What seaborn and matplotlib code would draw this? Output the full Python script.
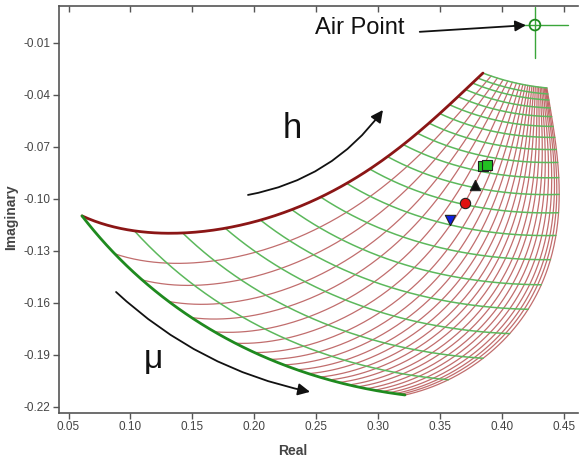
import numpy as np
import pandas as pd
import matplotlib
matplotlib.use("Agg")
import matplotlib.pyplot as plt
import seaborn as sns

# ---------------- data ----------------
# first red line (thick, upper-left boundary)  A -> B
top_red_x = [0.0609, 0.0754, 0.0981, 0.1158, 0.1336, 0.1667, 0.1990, 0.2273, 0.2515,
             0.2750, 0.2919, 0.3081, 0.3218, 0.3355, 0.3460, 0.3565, 0.3679, 0.3759, 0.3848]
top_red_y = [-0.1099, -0.1157, -0.1186, -0.1197, -0.1197, -0.1192, -0.1140, -0.1076, -0.0996,
             -0.0921, -0.0846, -0.0759, -0.0678, -0.0603, -0.0534, -0.0471, -0.0402, -0.0344, -0.0275]
# first green line (thick, lower boundary)  A -> D
bottom_green_x = [0.0609, 0.0714, 0.0876, 0.1102, 0.1296, 0.1481, 0.1724, 0.1990, 0.2346,
                  0.2612, 0.2879, 0.3218]
bottom_green_y = [-0.1099, -0.1180, -0.1313, -0.1474, -0.1584, -0.1682, -0.1774, -0.1884, -0.1988,
                  -0.2045, -0.2091, -0.2132]
# last red line (right edge)  D -> C
right_red_x = [0.3218, 0.3565, 0.3848, 0.4066, 0.4220, 0.4317, 0.4389, 0.4438, 0.4460,
               0.4465, 0.4440, 0.4410, 0.4383, 0.4365]
right_red_y = [-0.2132, -0.2039, -0.1918, -0.1780, -0.1642, -0.1497, -0.1353, -0.1215, -0.1065,
               -0.0892, -0.0719, -0.0546, -0.0430, -0.0361]
# last green line (short top edge)  B -> C
top_green_x = [0.3848, 0.3985, 0.4147, 0.4268, 0.4365]
top_green_y = [-0.0275, -0.0309, -0.0338, -0.0350, -0.0361]

# relative positions of the grid lines along the boundaries
green_frac = [0.0, 0.121, 0.228, 0.323, 0.403, 0.476, 0.546, 0.611, 0.671, 0.719,
              0.763, 0.803, 0.837, 0.869, 0.898, 0.924, 0.947, 0.968, 0.984, 1.0]
red_frac = [0.0, 0.132, 0.232, 0.322, 0.396, 0.467, 0.530, 0.586, 0.631, 0.670, 0.707,
            0.739, 0.770, 0.797, 0.823, 0.850, 0.873, 0.897, 0.918, 0.939, 0.958,
            0.974, 0.987, 1.0]

# measurement points
meas_x = [0.3848, 0.3880, 0.3784, 0.3703, 0.3582]
meas_y = [-0.0811, -0.0805, -0.0921, -0.1024, -0.1122]
meas_kind = ["sq", "sq", "tri", "circ", "tri_dn"]

air_x, air_y = 0.4268, 0.0002
air_hline_x = [0.4091, 0.4535]
air_vline_y = [0.0106, -0.0188]

x_ticks = [0.05, 0.10, 0.15, 0.20, 0.25, 0.30, 0.35, 0.40, 0.45]
y_ticks = [-0.01, -0.04, -0.07, -0.10, -0.13, -0.16, -0.19, -0.22]

# ---------------- style ----------------
sns.set_theme(style="white")
plt.rcParams["font.family"] = ["Liberation Sans", "DejaVu Sans"]

fig = plt.figure(figsize=(5.79, 4.57), dpi=100)
ax = fig.add_axes([0.1019, 0.0963, 0.8964, 0.8906])
ax.set_xlim(0.0423, 0.4616)
ax.set_ylim(-0.2236, 0.0112)


# ---------------- grid construction ----------------
def to_disp(xs, ys):
    return ax.transData.transform(np.column_stack([xs, ys]))


def curve_fn(xs, ys, deg):
    p = to_disp(xs, ys)
    d = np.hypot(np.diff(p[:, 0]), np.diff(p[:, 1]))
    s = np.r_[0, np.cumsum(d)]
    s /= s[-1]
    sd = np.linspace(0, 1, 400)
    cx = np.polyval(np.polyfit(s, p[:, 0], deg), sd)
    cy = np.polyval(np.polyfit(s, p[:, 1], deg), sd)
    c = np.column_stack([cx, cy])
    # pin the ends to the read corner points
    c += (p[0] - c[0]) * (1 - sd)[:, None] + (p[-1] - c[-1]) * sd[:, None]
    d = np.hypot(np.diff(c[:, 0]), np.diff(c[:, 1]))
    s2 = np.r_[0, np.cumsum(d)]
    s2 /= s2[-1]
    return lambda t: np.column_stack([np.interp(t, s2, c[:, 0]), np.interp(t, s2, c[:, 1])])


R0 = curve_fn(top_red_x, top_red_y, 5)
R1 = curve_fn(right_red_x, right_red_y, 4)
G0 = curve_fn(bottom_green_x, bottom_green_y, 4)
G1 = curve_fn(top_green_x, top_green_y, 2)
A, B = R0(np.array([0.0]))[0], R0(np.array([1.0]))[0]
D, C = R1(np.array([0.0]))[0], R1(np.array([1.0]))[0]


def coons(u, v):
    u = np.asarray(u)[:, None]
    v = np.asarray(v)[:, None]
    uu, vv = u[:, 0], v[:, 0]
    return ((1 - u) * R0(vv) + u * R1(vv) + (1 - v) * G0(uu) + v * G1(uu)
            - ((1 - u) * (1 - v) * A + u * (1 - v) * D + (1 - u) * v * B + u * v * C))


inv = ax.transData.inverted()
t = np.linspace(0, 1, 200)
rows = []
for i, u in enumerate(red_frac):
    pts = inv.transform(coons(np.full_like(t, u), t))
    for k, (x, y) in enumerate(pts):
        rows.append(("red", i, k, x, y))
for j, v in enumerate(green_frac):
    pts = inv.transform(coons(t, np.full_like(t, v)))
    for k, (x, y) in enumerate(pts):
        rows.append(("green", j, k, x, y))
grid = pd.DataFrame(rows, columns=["family", "line", "order", "x", "y"])

red_thin = grid[(grid.family == "red") & (grid.line > 0)]
green_thin = grid[(grid.family == "green") & (grid.line > 0)]
red_thick = grid[(grid.family == "red") & (grid.line == 0)]
green_thick = grid[(grid.family == "green") & (grid.line == 0)]

sns.lineplot(data=red_thin, x="x", y="y", units="line", estimator=None, sort=False,
             color="#b65454", lw=0.9, alpha=0.85, ax=ax)
sns.lineplot(data=green_thin, x="x", y="y", units="line", estimator=None, sort=False,
             color="#5cb85c", lw=1.1, ax=ax)
sns.lineplot(data=red_thick, x="x", y="y", estimator=None, sort=False,
             color="#8b1616", lw=2.0, ax=ax)
sns.lineplot(data=green_thick, x="x", y="y", estimator=None, sort=False,
             color="#1f8a1f", lw=2.0, ax=ax)

# measurement markers
mk = pd.DataFrame({"x": meas_x, "y": meas_y, "kind": meas_kind})
marker_map = {"sq": "s", "tri": "^", "circ": "o", "tri_dn": "v"}
color_map = {"sq": "#22c022", "tri": "#111111", "circ": "#e01010", "tri_dn": "#1020e0"}
for kind, sub in mk.groupby("kind"):
    sns.scatterplot(data=sub, x="x", y="y", marker=marker_map[kind], color=color_map[kind],
                    edgecolor="#222222", linewidth=0.8, s=55, ax=ax, zorder=5)

# air point
sns.lineplot(x=air_hline_x, y=[air_y, air_y], color="#3aa63a", lw=1.0, ax=ax)
sns.lineplot(x=[air_x, air_x], y=air_vline_y, color="#3aa63a", lw=1.0, ax=ax, sort=False,
             estimator=None)
ax.scatter([air_x], [air_y], s=60, facecolors="none", edgecolors="#1f8a1f", linewidths=1.3,
           zorder=6)
ax.text(0.2491, -0.0015, "Air Point", fontsize=17, ha="left", va="center", color="#111111")
ax.annotate("", xy=(0.4218, 0.0002), xytext=(0.3315, -0.0038),
            arrowprops=dict(arrowstyle="-|>", color="#111111", lw=1.3, mutation_scale=16))

# h and mu labels with curved arrows
ax.text(0.2305, -0.0592, "h", fontsize=25, ha="center", va="center", color="#111111")
ax.annotate("", xy=(0.3040, -0.0488), xytext=(0.1950, -0.0978),
            arrowprops=dict(arrowstyle="-|>", color="#111111", lw=1.3, mutation_scale=18,
                            connectionstyle="arc3,rad=0.2", shrinkA=0, shrinkB=0))
ax.text(0.1183, -0.1930, "\u03bc", fontsize=24, ha="center", va="center", color="#111111")
ax.annotate("", xy=(0.2451, -0.2114), xytext=(0.0884, -0.1538),
            arrowprops=dict(arrowstyle="-|>", color="#111111", lw=1.3, mutation_scale=18,
                            connectionstyle="arc3,rad=0.14", shrinkA=0, shrinkB=0))

# ---------------- axes styling ----------------
ax.set_xticks(x_ticks)
ax.set_yticks(y_ticks)
ax.set_xticklabels([f"{v:.2f}" for v in x_ticks])
ax.set_yticklabels([f"{v:.2f}" for v in y_ticks])
ax.tick_params(axis="both", direction="out", length=4, width=1, color="#555555",
               labelsize=8.5, labelcolor="#444444", pad=2, left=True, bottom=True)
# inward ticks along the top frame
ax.xaxis.remove_overlapping_locs = False
ax.set_xticks(x_ticks, minor=True)
ax.tick_params(axis="x", which="minor", direction="in", length=4, width=1, color="#555555",
               top=True, bottom=False, labeltop=False, labelbottom=False)
for side in ["left", "bottom", "top"]:
    ax.spines[side].set_color("#555555")
    ax.spines[side].set_linewidth(1.2)
ax.spines["right"].set_visible(False)

ax.set_xlabel("Real", fontsize=10, fontweight="bold", color="#444444")
ax.set_ylabel("Imaginary", fontsize=10, fontweight="bold", color="#444444")
ax.xaxis.set_label_coords(0.45, -0.075)
ax.yaxis.set_label_coords(-0.078, 0.48)
ax.grid(False)

fig.savefig("out.png", dpi=100)
